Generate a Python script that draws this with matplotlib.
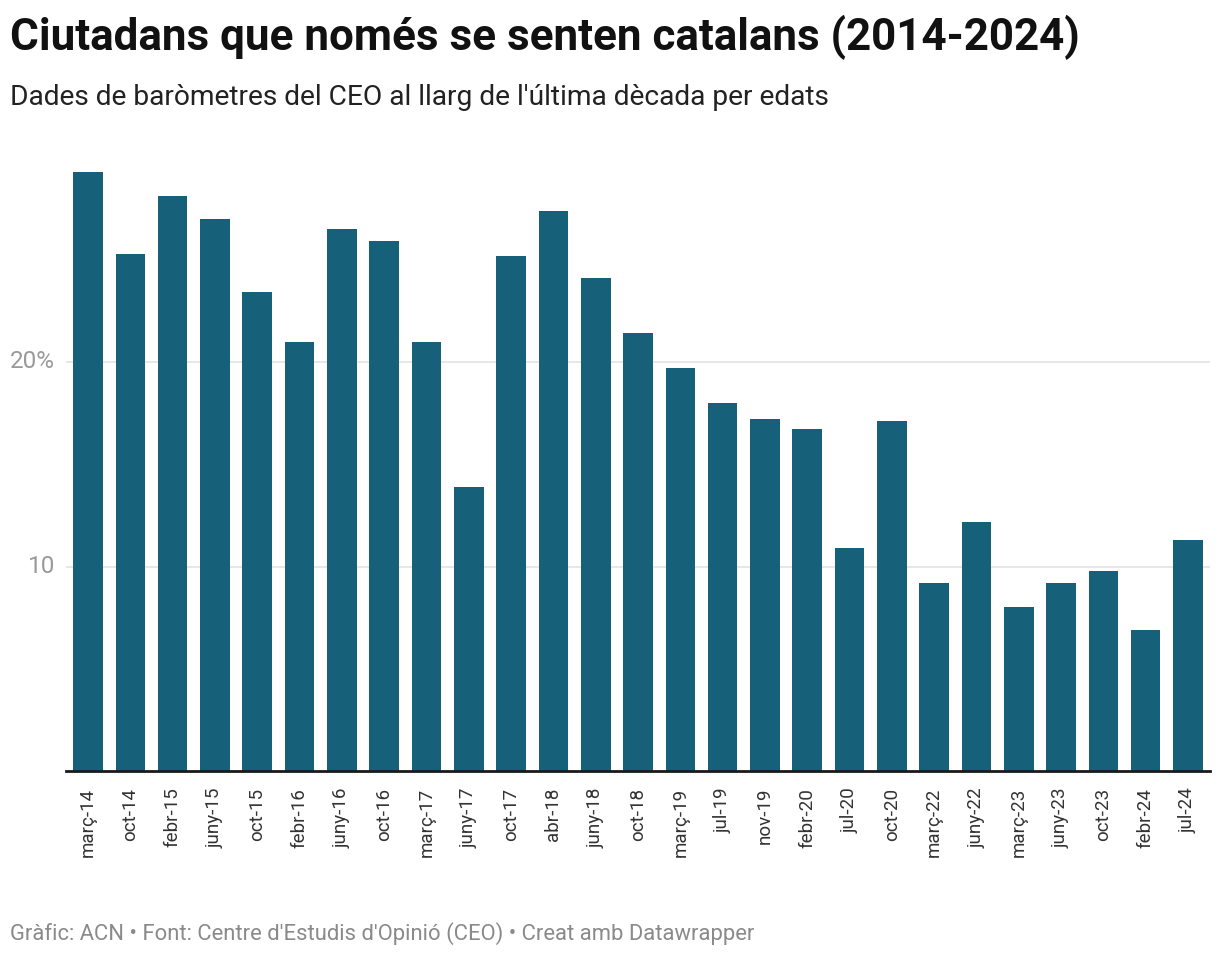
import numpy as np
import matplotlib
matplotlib.use("Agg")
import matplotlib.pyplot as plt

# barometer waves and share of people that feel "only Catalan" (%)
labels = ["març-14", "oct-14", "febr-15", "juny-15", "oct-15", "febr-16",
          "juny-16", "oct-16", "març-17", "juny-17", "oct-17", "abr-18",
          "juny-18", "oct-18", "març-19", "jul-19", "nov-19", "febr-20",
          "jul-20", "oct-20", "març-22", "juny-22", "març-23", "juny-23",
          "oct-23", "febr-24", "jul-24"]
values = [29.3, 25.3, 28.1, 27.0, 23.4, 21.0,
          26.5, 25.9, 21.0, 13.9, 25.2, 27.4,
          24.1, 21.4, 19.7, 18.0, 17.2, 16.7,
          10.9, 17.1, 9.2, 12.2, 8.0, 9.2,
          9.8, 6.9, 11.3]
yticks = [10, 20]
ytick_labels = ["10", "20%"]

title = "Ciutadans que només se senten catalans (2014-2024)"
subtitle = "Dades de baròmetres del CEO al llarg de l'última dècada per edats"
footer = "Gràfic: ACN • Font: Centre d'Estudis d'Opinió (CEO) • Creat amb Datawrapper"

plt.rcParams['font.family'] = ['Roboto', 'DejaVu Sans']

W, H = 1220, 958
fig = plt.figure(figsize=(W / 100, H / 100), dpi=100)
fig.patch.set_facecolor("white")

# axes box in pixels: left 66, right 1210, bottom 771, top 157.5 (ylim 30)
ax = fig.add_axes([66 / W, (H - 771) / H, (1210 - 66) / W, (771 - 157.5) / H])

x = np.arange(len(labels))
ax.bar(x, values, width=0.7, color="#17607a", zorder=2)

ax.set_xlim(-0.52, len(labels) - 0.48)
ax.set_ylim(0, 30)

ax.set_yticks(yticks)
ax.set_yticklabels(ytick_labels)
ax.tick_params(axis="y", length=0, pad=8, labelsize=17.5, labelcolor="#9a9a9a")
for t in ax.get_yticklabels():
    t.set_verticalalignment("center")
ax.grid(axis="y", color="#e3e3e3", linewidth=1.2, zorder=0)

ax.set_xticks(x)
ax.set_xticklabels(labels, rotation=90, va="top", ha="center")
ax.tick_params(axis="x", length=0, pad=12, labelsize=13.5, labelcolor="#333333")

for side in ["top", "right", "left"]:
    ax.spines[side].set_visible(False)
ax.spines["bottom"].set_color("#1a1a1a")
ax.spines["bottom"].set_linewidth(2)
ax.spines["bottom"].set_zorder(3)

fig.text(10 / W, 1 - 50 / H, title, fontsize=31.7, fontweight="bold",
         color="#111111", ha="left", va="baseline")
fig.text(10 / W, 1 - 105 / H, subtitle, fontsize=20.25, color="#222222",
         ha="left", va="baseline")
fig.text(10 / W, 1 - 940 / H, footer, fontsize=15.85, color="#8a8a8a",
         ha="left", va="baseline")

fig.savefig("out.png", dpi=100, facecolor="white")
